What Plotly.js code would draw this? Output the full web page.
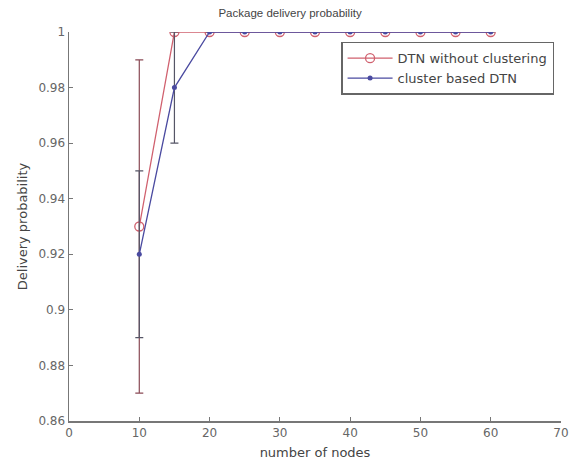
<!DOCTYPE html>
<html><head><meta charset="utf-8">
<script src="https://cdn.plot.ly/plotly-3.0.1.min.js"></script>
<style>html,body{margin:0;padding:0;background:#fff}</style>
</head><body><div id="chart" style="width:571px;height:465px"></div>
<script>
const nodes = [10, 15, 20, 25, 30, 35, 40, 45, 50, 55, 60];
const probNoCluster = [0.93, 1, 1, 1, 1, 1, 1, 1, 1, 1, 1];
const errNoCluster = [0.06, 0, 0, 0, 0, 0, 0, 0, 0, 0, 0];
const probCluster = [0.92, 0.98, 1, 1, 1, 1, 1, 1, 1, 1, 1];
const errCluster = [0.03, 0.02, 0, 0, 0, 0, 0, 0, 0, 0, 0];
const xTicks = [0, 10, 20, 30, 40, 50, 60, 70];
const yTicks = [0.86, 0.88, 0.9, 0.92, 0.94, 0.96, 0.98, 1];
const yTickText = ['0.86', '0.88', '0.9', '0.92', '0.94', '0.96', '0.98', '1'];

const redC = '#d0606e', blueC = '#4a4aa0';
const traces = [
  {x: nodes, y: probNoCluster, name: 'DTN without clustering', mode: 'lines+markers', legendgroup: 'a',
   line: {color: redC, width: 1.3},
   marker: {symbol: 'circle-open', size: 9, color: redC, line: {width: 1.3}},
   error_y: {type: 'data', array: errNoCluster, visible: true, color: '#8a4a55', thickness: 1.2, width: 4}},
  {x: nodes, y: probCluster, name: 'cluster based DTN', mode: 'lines+markers', legendgroup: 'b',
   line: {color: blueC, width: 1.3},
   marker: {symbol: 'circle', size: 5, color: blueC},
   error_y: {type: 'data', array: errCluster, visible: true, color: '#555566', thickness: 1.2, width: 4}}
];
const fam = 'DejaVu Sans, Verdana, sans-serif';
const layout = {
  width: 571, height: 465,
  margin: {l: 69, r: 10, t: 32, b: 44},
  paper_bgcolor: '#fff', plot_bgcolor: '#fff',
  font: {family: fam, size: 12, color: '#555'},
  showlegend: true,
  title: {text: 'Package delivery probability', font: {family: 'Liberation Sans, Arial, sans-serif', size: 11.5, color: '#444'}, x: 0.508, xanchor: 'center', y: 0.98, yanchor: 'top'},
  xaxis: {range: [0, 70], tickvals: xTicks, ticks: 'inside', ticklen: 4, tickcolor: '#777',
          tickfont: {size: 12, color: '#666'},
          showgrid: false, zeroline: false, showline: true, linecolor: '#777', linewidth: 1.5,
          title: {text: 'number of nodes', font: {size: 13, color: '#444'}, standoff: 9}},
  yaxis: {range: [0.86, 1], tickvals: yTicks, ticktext: yTickText, ticks: 'inside', ticklen: 4, tickcolor: '#777',
          tickfont: {size: 12, color: '#666'},
          showgrid: false, zeroline: false, showline: true, linecolor: '#777', linewidth: 1.5,
          title: {text: 'Delivery probability', font: {size: 13, color: '#444'}, standoff: 8}},
  legend: {x: 0.553, y: 0.975, xanchor: 'left', yanchor: 'top', bgcolor: '#fff', itemwidth: 45,
           bordercolor: '#666', borderwidth: 1.5, font: {size: 13, color: '#444'}, tracegroupgap: 0}
};
Plotly.newPlot('chart', traces, layout, {displayModeBar: false, staticPlot: true});
</script></body></html>
